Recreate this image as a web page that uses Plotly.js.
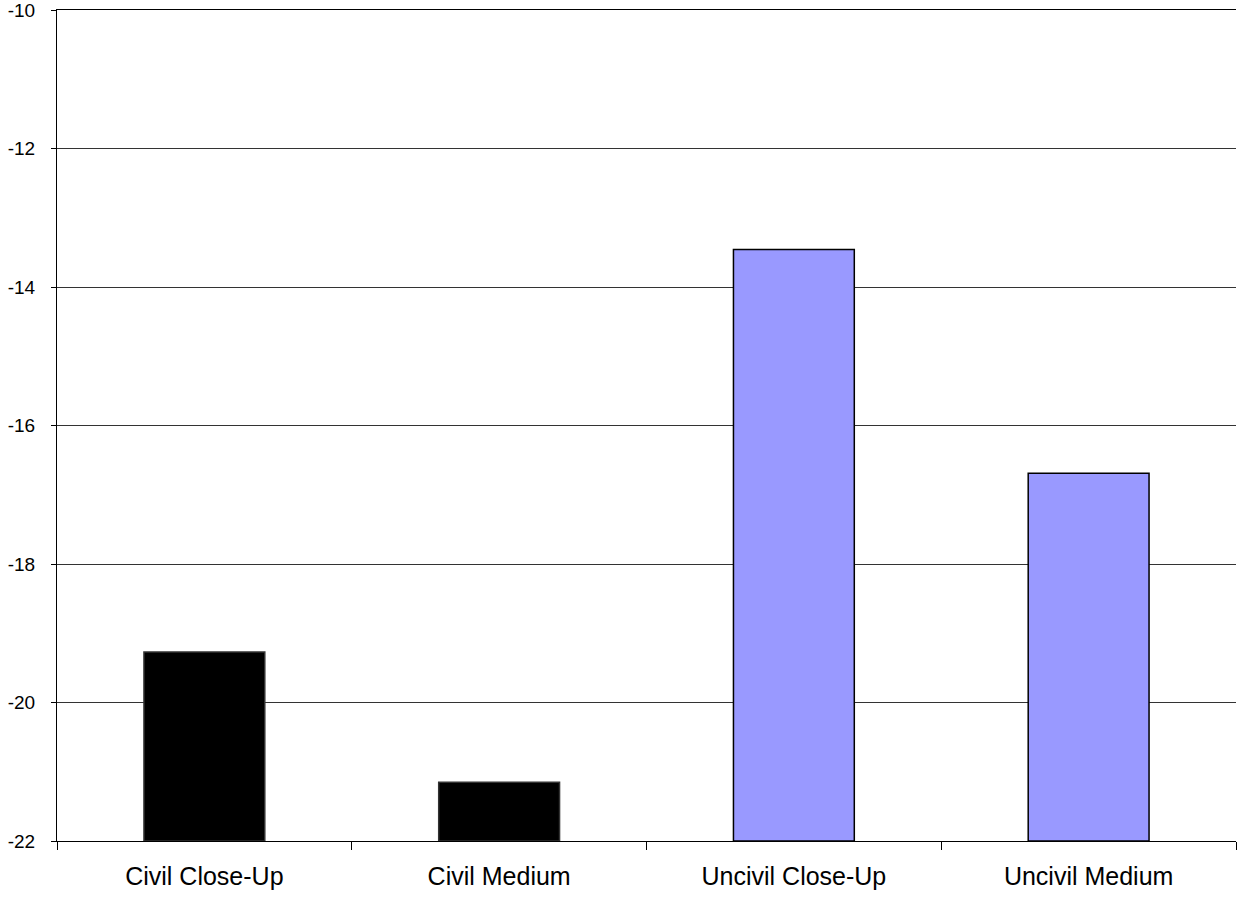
<!DOCTYPE html>
<html>
<head>
<meta charset="utf-8">
<script src="https://cdn.plot.ly/plotly-3.0.1.min.js"></script>
<style>html,body{margin:0;padding:0;background:#fff;}#chart{width:1238px;height:897px;}</style>
</head>
<body>
<div id="chart"></div>
<script>
const categories = ["Civil Close-Up", "Civil Medium", "Uncivil Close-Up", "Uncivil Medium"];
const values = [-19.27, -21.15, -13.46, -16.69];
const barColors = ["#000000", "#000000", "#9999FF", "#9999FF"];
const lineColors = ["#333333", "#333333", "#000000", "#000000"];
const yTicks = [-22, -20, -18, -16, -14, -12, -10];
const axisMin = -22;
const axisMax = -10;

const trace = {
  type: "bar",
  x: categories,
  y: values.map(v => v - axisMin),
  base: values.map(() => axisMin),
  marker: { color: barColors, line: { color: lineColors, width: 1.5 } },
  hoverinfo: "skip"
};

const layout = {
  width: 1238, height: 897,
  margin: { l: 57, r: 2, t: 10, b: 56 },
  paper_bgcolor: "#fff", plot_bgcolor: "#fff",
  showlegend: false,
  bargap: 0.59,
  font: { family: "Liberation Sans, Arial, sans-serif", size: 16, color: "#000" },
  xaxis: {
    type: "category",
    tickson: "boundaries",
    ticks: "outside", ticklen: 8, tickcolor: "#000", tickwidth: 1,
    showline: true, linecolor: "#000", linewidth: 1,
    mirror: true,
    showgrid: false,
    ticklabelstandoff: 13,
    tickfont: { size: 25 }
  },
  yaxis: {
    range: [axisMin, axisMax],
    tickvals: yTicks,
    ticktext: yTicks.map(String),
    ticks: "outside", ticklen: 5, tickcolor: "#000",
    showline: true, linecolor: "#000", linewidth: 1,
    showgrid: true, gridcolor: "#333", gridwidth: 1,
    zeroline: false,
    tickfont: { size: 19 },
    ticklabelstandoff: 12,
    ticklabeloverflow: "allow"
  }
};

Plotly.newPlot("chart", [trace], layout, { displayModeBar: false, staticPlot: true });
</script>
</body>
</html>
